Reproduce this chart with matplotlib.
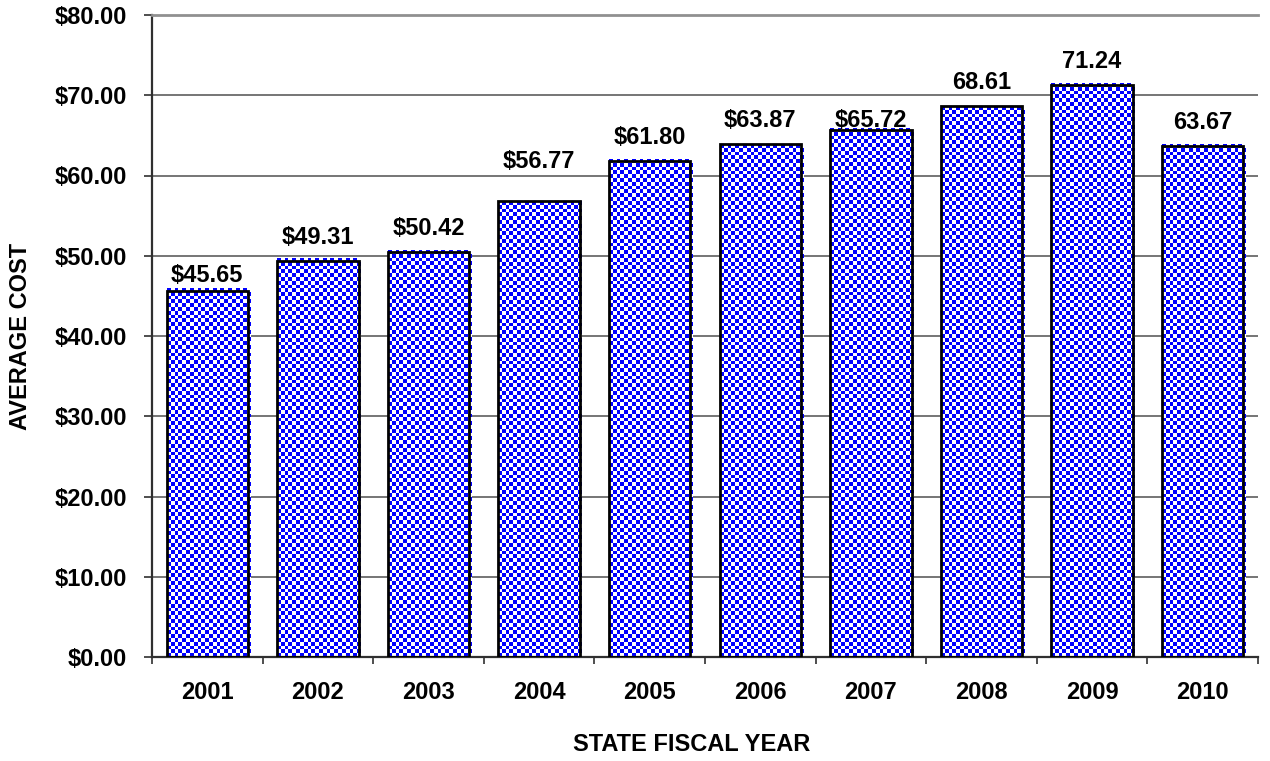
import matplotlib
matplotlib.use("Agg")
import matplotlib.pyplot as plt
import numpy as np

plt.rcParams['font.family'] = ['Liberation Sans', 'DejaVu Sans']

# Data
years = ['2001', '2002', '2003', '2004', '2005', '2006', '2007', '2008', '2009', '2010']
avg_cost = [45.65, 49.31, 50.42, 56.77, 61.80, 63.87, 65.72, 68.61, 71.24, 63.67]
bar_labels = ['$45.65', '$49.31', '$50.42', '$56.77', '$61.80', '$63.87', '$65.72',
              '68.61', '71.24', '63.67']
y_ticks = [0, 10, 20, 30, 40, 50, 60, 70, 80]

# label gap above each bar (pixels), as placed in the original
label_gap_px = [9, 17, 17, 33, 17, 17, 3, 17, 17, 17]

fig = plt.figure(figsize=(12.7, 7.61), dpi=100)
ax = fig.add_axes([152 / 1270, 1 - 657 / 761, 1106 / 1270, 642 / 761])

x = np.arange(len(years))
width = 0.735
bars = ax.bar(x, avg_cost, width=width, facecolor='none', edgecolor='black',
              linewidth=2, zorder=3)

ax.set_xlim(-0.5, len(years) - 0.5)
ax.set_ylim(0, 80)

# checkerboard fill, clipped to each bar
cell_px = 3.8
px_per_x = 1106 / len(years)
px_per_y = 642 / 80
for b in bars:
    x0, y0 = b.get_x(), b.get_y()
    w, h = b.get_width(), b.get_height()
    nx = int(np.ceil(w * px_per_x / cell_px))
    ny = int(np.ceil(h * px_per_y / cell_px))
    ii, jj = np.indices((ny, nx))
    checker = (ii + jj) % 2
    img = np.ones((ny, nx, 3))
    img[checker == 0] = [0.0, 0.0, 1.0]
    ax.imshow(img, extent=(x0, x0 + nx * cell_px / px_per_x, y0, y0 + ny * cell_px / px_per_y),
              origin='lower', interpolation='nearest', aspect='auto', zorder=2,
              clip_path=b, clip_on=True)

ax.set_xlim(-0.5, len(years) - 0.5)
ax.set_ylim(0, 80)

for xi, v, lab, gap in zip(x, avg_cost, bar_labels, label_gap_px):
    ax.annotate(lab, (xi, v), xytext=(0, gap * 0.72), textcoords='offset points',
                ha='center', va='baseline', fontsize=17, fontweight='bold', zorder=4)

# grid and spines
ax.set_yticks(y_ticks)
ax.set_yticklabels(['${:.2f}'.format(t) for t in y_ticks], fontsize=17, fontweight='bold')
ax.yaxis.grid(True, color='#505050', linewidth=1.1, zorder=1)
ax.set_axisbelow(True)
ax.spines['right'].set_visible(False)
ax.spines['top'].set_color('#909090')
ax.spines['top'].set_linewidth(2)
ax.spines['left'].set_color('#303030')
ax.spines['left'].set_linewidth(1.6)
ax.spines['bottom'].set_color('#303030')
ax.spines['bottom'].set_linewidth(1.6)
ax.tick_params(axis='y', length=6, width=1.2, color='#303030', pad=12)

ax.set_xticks(np.arange(-0.5, len(years), 1.0))
ax.set_xticklabels([])
ax.set_xticks(x, minor=True)
ax.set_xticklabels(years, minor=True, fontsize=17, fontweight='bold')
ax.tick_params(axis='x', which='major', length=5, width=1.2, color='#303030')
ax.tick_params(axis='x', which='minor', length=0, pad=17)

ax.set_xlabel('STATE FISCAL YEAR', fontsize=17, fontweight='bold')
ax.xaxis.set_label_coords(0.488, -0.137)
ax.xaxis.label.set_verticalalignment('center')
ax.set_ylabel('AVERAGE COST', fontsize=17, fontweight='bold')
ax.yaxis.set_label_coords(-0.1193, 0.5)
ax.yaxis.label.set_verticalalignment('center')

fig.savefig('out.png', dpi=100)
